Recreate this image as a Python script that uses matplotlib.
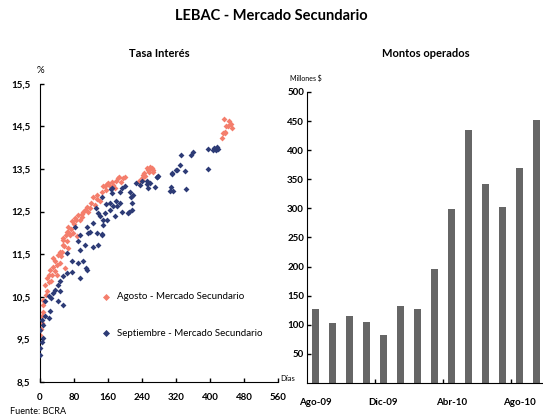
import matplotlib
matplotlib.use('Agg')
import matplotlib.pyplot as plt
import numpy as np

plt.rcParams['font.family'] = ['Lato', 'DejaVu Sans']

# Tasa de interes (dias, %)
ago_dias = [0, 4, 4, 8, 10, 12, 16, 16, 20, 24, 27, 31, 31, 35, 39, 43, 47, 46, 51, 55,
            59, 63, 67, 54, 55, 63, 66, 67, 75, 78, 82, 86, 85, 90, 102, 105, 110, 70, 118, 125,
            129, 133, 141, 149, 152, 161, 172, 176, 184, 187, 200, 234, 239, 243, 251, 257, 263, 267,
            95, 100, 120, 135, 145, 155, 165, 170, 178, 190, 195, 158, 112, 98, 72, 80, 60, 57,
            50, 40, 36, 28, 22, 14, 8, 2, 6, 245, 255, 260, 265, 248, 240,
            428, 431, 435, 436, 433, 439, 442, 445, 449, 452]
ago_tasa = [9.61, 9.88, 10.04, 10.43, 10.40, 10.78, 10.63, 10.94, 11.02, 11.13, 10.86, 11.21, 11.41, 11.33,
            11.02, 11.49, 11.29, 11.56, 11.56, 11.72, 11.17, 11.80, 11.64, 11.84, 11.88, 12.03, 12.03, 12.15,
            12.27, 12.00, 12.35, 11.92, 12.31, 12.42, 12.50, 12.54, 12.60, 11.95, 12.58, 12.85, 12.66, 12.89,
            12.74, 13.09, 13.09, 13.18, 13.13, 13.05, 13.29, 13.32, 13.32, 13.21, 13.29, 13.36, 13.52, 13.44,
            13.52, 13.43, 12.30, 12.45, 12.70, 12.80, 12.95, 13.00, 13.10, 13.20, 13.22, 13.20, 13.28, 13.15,
            12.48, 12.38, 12.10, 12.20, 11.95, 11.70, 11.45, 11.25, 11.10, 11.00, 10.85, 10.55, 10.15, 9.75,
            10.30, 13.40, 13.48, 13.55, 13.47, 13.33, 13.25,
            14.23, 14.34, 14.34, 14.37, 14.68, 14.51, 14.52, 14.62, 14.55, 14.47]

sep_dias = [0, 0, 0, 4, 8, 4, 8, 12, 20, 24, 12, 20, 27, 31, 35, 43, 55, 47, 43, 47,
            55, 63, 75, 94, 110, 109, 63, 75, 90, 102, 90, 106, 94, 125, 137, 118, 133, 145, 94, 114,
            145, 82, 110, 125, 141, 149, 137, 176, 132, 155, 165, 145, 167, 182, 192, 210, 216, 214, 200, 251,
            253, 271, 276, 277, 306, 308, 314, 343, 311, 320, 329, 341, 333, 355, 361, 396, 396, 408, 414, 416,
            420, 410, 412, 227, 235, 239, 219, 212, 216, 208, 259, 255, 275, 180, 188, 172, 165, 153, 157, 149,
            169, 188, 192, 169, 310, 322]
sep_tasa = [9.14, 9.30, 9.73, 9.45, 9.53, 9.96, 9.84, 10.04, 10.00, 10.16, 10.39, 10.51, 10.47, 10.59, 10.66,
            10.39, 10.31, 10.63, 10.78, 10.86, 10.98, 11.06, 11.09, 10.94, 11.13, 11.17, 11.53, 11.33, 11.29,
            11.33, 11.80, 11.72, 11.60, 11.68, 11.72, 12.03, 12.00, 11.96, 11.95, 11.99, 11.98, 12.15, 12.15,
            12.23, 12.39, 12.31, 12.46, 12.39, 12.58, 12.68, 12.70, 12.85, 13.04, 12.62, 12.50, 12.50, 12.70,
            12.85, 13.09, 13.21, 13.15, 13.08, 13.32, 13.33, 12.99, 13.08, 12.99, 13.04, 13.38, 13.48, 13.60,
            13.46, 13.83, 13.83, 13.91, 13.49, 13.97, 13.95, 13.94, 14.01, 13.97, 14.00, 13.98, 13.17, 13.13,
            13.21, 12.89, 12.97, 12.54, 12.47, 13.17, 13.05, 13.32, 12.74, 12.70, 12.62, 12.54, 12.47, 12.31,
            12.19, 12.93, 12.97, 13.05, 13.05, 13.40, 13.48]

# Montos operados (millones $)
meses = ['Ago-09', 'Sep-09', 'Oct-09', 'Nov-09', 'Dic-09', 'Ene-10', 'Feb-10',
         'Mar-10', 'Abr-10', 'May-10', 'Jun-10', 'Jul-10', 'Ago-10', 'Sep-10']
montos = [127, 103, 115, 105, 82, 132, 127, 195, 299, 435, 342, 302, 369, 452]

c_ago = '#F47E6C'
c_sep = '#2D3B76'
c_bar = '#666666'

fig = plt.figure(figsize=(5.43, 4.17), dpi=100)
fig.text(0.5, 0.962, 'LEBAC - Mercado Secundario', ha='center', va='center',
         fontsize=10.5, fontweight='bold')

# --- panel izquierdo
ax1 = fig.add_axes([0.0737, 0.084, 0.438, 0.715])
ax1.scatter(ago_dias, ago_tasa, marker='D', s=9, color=c_ago, linewidths=0,
            label='Agosto - Mercado Secundario', zorder=2)
ax1.scatter(sep_dias, sep_tasa, marker='D', s=9, color=c_sep, linewidths=0,
            label='Septiembre - Mercado Secundario', zorder=3)
ax1.set_xlim(0, 560)
ax1.set_ylim(8.5, 15.5)
ax1.set_xticks(np.arange(0, 561, 80))
yt = np.arange(8.5, 15.6, 1.0)
ax1.set_yticks(yt)
ax1.set_yticklabels([('%.1f' % v).replace('.', ',') for v in yt])
for s in ['top', 'right']:
    ax1.spines[s].set_visible(False)
ax1.tick_params(direction='in', length=3, width=1, labelsize=7)
ax1.tick_params(axis='y', pad=7)
ax1.tick_params(axis='x', pad=8)
for lab in ax1.get_xticklabels() + ax1.get_yticklabels():
    lab.set_fontweight('bold')
ax1.set_title('Tasa Interés', fontsize=8, fontweight='bold', pad=19)
ax1.text(0.0, 1.03, '%', transform=ax1.transAxes, fontsize=7, ha='center', va='bottom')
ax1.text(1.01, 0.0, 'Días', transform=ax1.transAxes, fontsize=5.5, ha='left', va='bottom')
leg = ax1.legend(loc='upper left', bbox_to_anchor=(0.2, 0.33), frameon=False,
                 fontsize=7, labelspacing=2.8, handletextpad=0.1, markerscale=1.2,
                 scatterpoints=1)

# --- panel derecho
ax2 = fig.add_axes([0.565, 0.0815, 0.438, 0.698])
x = np.arange(len(montos))
ax2.bar(x, montos, width=0.42, color=c_bar, zorder=2)
ax2.set_xlim(-0.5, len(montos) - 0.5)
ax2.set_ylim(0, 500)
ax2.set_yticks(np.arange(50, 501, 50))
ax2.set_xticks(x[::4])
ax2.set_xticklabels(meses[::4])
ax2.set_xticks(np.arange(3.5, len(montos) - 1, 4), minor=True)
for s in ['top', 'right']:
    ax2.spines[s].set_visible(False)
ax2.tick_params(axis='y', direction='in', length=3, width=1, labelsize=7, pad=2)
ax2.tick_params(axis='x', which='major', length=0, labelsize=7, pad=11)
ax2.tick_params(axis='x', which='minor', direction='in', length=3, width=1)
for lab in ax2.get_xticklabels() + ax2.get_yticklabels():
    lab.set_fontweight('bold')
ax2.set_title('Montos operados', fontsize=8, fontweight='bold', pad=25)
ax2.text(-0.07, 1.035, 'Millones $', transform=ax2.transAxes, fontsize=5, ha='left', va='bottom')

fig.text(0.018, 0.003, 'Fuente: BCRA', fontsize=6.5, ha='left', va='bottom')

fig.savefig('out.png', dpi=100)
